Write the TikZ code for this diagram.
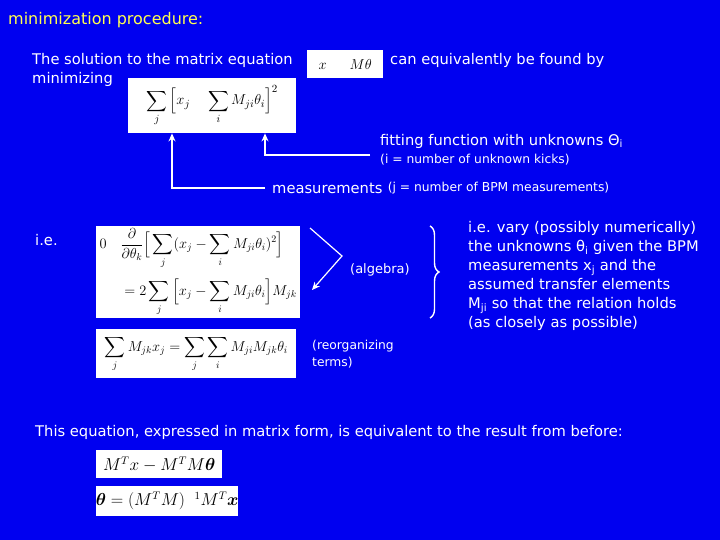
\documentclass[tikz,border=0pt]{standalone}
\usepackage{amsmath}
\usepackage{fontspec}
\setmainfont{DejaVu Sans}
\usetikzlibrary{arrows.meta,decorations.pathreplacing}
\definecolor{bg}{RGB}{0,0,240}
\definecolor{ttl}{RGB}{255,255,80}
\tikzset{
  txt/.style={anchor=west,text=white,font=\fontsize{14.7}{19}\selectfont,inner sep=0pt},
  small/.style={anchor=west,text=white,font=\fontsize{12.3}{17}\selectfont,inner sep=0pt},
  mbox/.style={fill=white,text=black,inner sep=0pt,anchor=north west},
  arr/.style={draw=white,line width=1.2pt,-{Stealth[length=8pt,width=7pt]}}
}
\begin{document}
\begin{tikzpicture}[x=1pt,y=-1pt]
\fill[bg] (0,0) rectangle (720,540);
\useasboundingbox (0,0) rectangle (720,540);
\node[txt,text=ttl,font=\fontsize{16}{19}\selectfont] (title) at (8,20) {minimization procedure:};
\node[txt] (sol) at (32,60) {The solution to the matrix equation};
\node[txt] (min) at (32,79) {minimizing};
\node[mbox,minimum width=76pt,minimum height=28pt] (eq1) at (307,50) {};
\node (eq1t) at (eq1.center) {\fontsize{15}{17}\selectfont$x\quad\;\; M\theta$};
\node[txt] (can) at (390,60) {can equivalently be found by};
\node[mbox,minimum width=168pt,minimum height=55pt] (eq2) at (128,78) {};
\node (eq2t) at (eq2.center) {\fontsize{15.5}{17}\selectfont$\displaystyle\sum_j\Big[x_j\quad\sum_i M_{ji}\theta_i\Big]^2$};
\node[txt] (fit) at (380,141) {fitting function with unknowns Θ\textsubscript{i}};
\node[small] (inum) at (380,160) {(i = number of unknown kicks)};
\node[txt] (meas) at (272,188) {measurements};
\node[small] (jnum) at (meas.east) {\hspace{5pt}(j = number of BPM measurements)};
\coordinate (c1) at (370,155);
\coordinate (c1b) at (265,155);
\coordinate (c2) at (265,188);
\coordinate (c2b) at (172,188);
\draw[arr] (c1) -- (c1b) -- (c1b |- eq2.south);
\draw[arr] (c2) -- (c2b) -- (c2b |- eq2.south);
\node[txt] (ie) at (35,240) {i.e.};
\node[mbox,minimum width=204pt,minimum height=92pt] (eq3) at (96,226) {};
\node (eq3t) at (eq3.center) {\fontsize{13.8}{16}\selectfont$\begin{aligned}0\quad&\frac{\partial}{\partial\theta_k}\Big[\sum_j(x_j-\sum_i M_{ji}\theta_i)^2\Big]\\[6pt] &=2\sum_j\Big[x_j-\sum_i M_{ji}\theta_i\Big]M_{jk}\end{aligned}$};
\coordinate (a1) at (310,228);
\coordinate (a2) at (342,256);
\coordinate (a3) at (312,290);
\draw[arr] (a1) -- (a2) -- (a3);
\node[txt,font=\fontsize{13}{16}\selectfont] (alg) at (350,270) {(algebra)};
\draw[white,line width=1.4pt,decorate,decoration={brace,amplitude=9pt}] (430,226) -- (430,318);
\node[txt,anchor=north west,align=left] (ievary) at (468,221) {i.e. vary (possibly numerically)\\the unknowns θ\textsubscript{i} given the BPM\\measurements x\textsubscript{j} and the\\assumed transfer elements\\M\textsubscript{ji} so that the relation holds\\(as closely as possible)};
\node[mbox,minimum width=200pt,minimum height=49pt] (eq4) at (96,329) {};
\node (eq4t) at (eq4.center) {\fontsize{14.5}{16}\selectfont$\displaystyle\sum_j M_{jk}x_j=\sum_j\sum_i M_{ji}M_{jk}\theta_i$};
\node[small,anchor=north west,align=left] (reorg) at (312,340) {(reorganizing\\terms)};
\node[txt] (this) at (35,432) {This equation, expressed in matrix form, is equivalent to the result from before:};
\node[mbox,minimum width=126pt,minimum height=28pt] (eq5) at (96,450) {};
\node (eq5t) at (eq5.center) {\fontsize{16}{18}\selectfont$M^Tx-M^TM\boldsymbol{\theta}$};
\node[mbox,minimum width=142pt,minimum height=30pt] (eq6) at (96,486) {};
\node (eq6t) at (eq6.center) {\fontsize{16}{18}\selectfont$\boldsymbol{\theta}=(M^TM)\;\;^1M^T\boldsymbol{x}$};
\end{tikzpicture}
\end{document}
